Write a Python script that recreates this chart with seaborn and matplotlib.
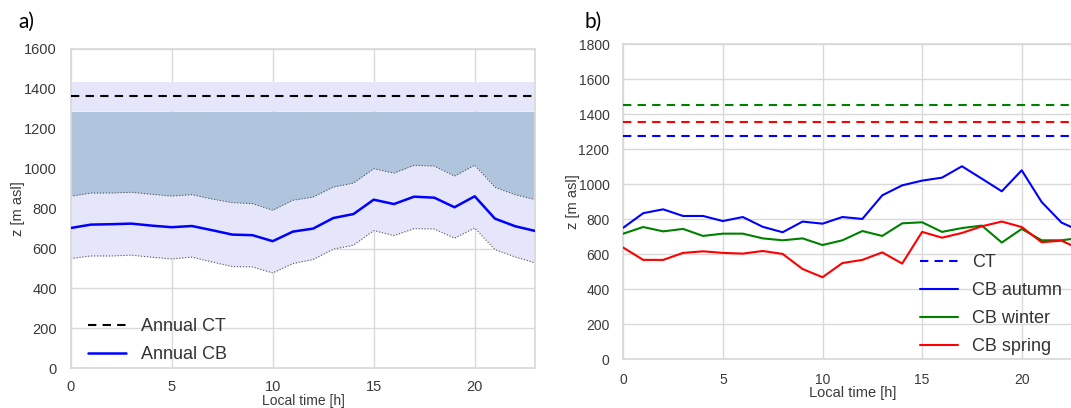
import numpy as np
import pandas as pd
import matplotlib
matplotlib.use("Agg")
import matplotlib.pyplot as plt
import seaborn as sns

# ---------------- data ----------------
hours = list(range(24))

# panel a) annual means
annual_ct = 1362
annual_ct_upper = 1436
annual_ct_lower = 1288
annual_cb = [703, 720, 722, 725, 715, 707, 713, 692, 670, 667, 637, 685,
             700, 753, 773, 845, 823, 860, 855, 807, 862, 750, 712, 688]
annual_cb_upper = [862, 878, 878, 882, 872, 863, 870, 848, 830, 825, 792, 842,
                   858, 908, 928, 1000, 978, 1017, 1013, 963, 1018, 907, 870, 845]
annual_cb_lower = [550, 563, 563, 567, 557, 548, 557, 533, 510, 508, 478, 525,
                   545, 597, 617, 690, 665, 700, 698, 652, 703, 595, 558, 528]

# panel b) seasonal
ct_autumn = 1276
ct_spring = 1356
ct_winter = 1453
cb_autumn = [752, 835, 857, 819, 819, 790, 813, 757, 726, 787, 775, 813,
             802, 937, 994, 1021, 1038, 1103, 1032, 960, 1080, 899, 781, 730]
cb_winter = [718, 756, 731, 745, 705, 718, 718, 691, 680, 691, 653, 680,
             733, 705, 777, 783, 728, 750, 764, 667, 745, 680, 680, 695]
cb_spring = [638, 568, 568, 608, 617, 608, 604, 619, 602, 516, 469, 550,
             568, 611, 547, 728, 695, 722, 760, 787, 756, 669, 678, 625]

df_a = pd.DataFrame({"hour": hours, "cb": annual_cb,
                     "up": annual_cb_upper, "lo": annual_cb_lower})
df_b = pd.DataFrame({"hour": hours, "autumn": cb_autumn,
                     "winter": cb_winter, "spring": cb_spring})

# ---------------- style ----------------
sns.set_theme(style="whitegrid")
plt.rcParams["font.family"] = ["Liberation Sans", "DejaVu Sans"]
plt.rcParams["axes.edgecolor"] = "#d9d9d9"
plt.rcParams["grid.color"] = "#d9d9d9"

fig = plt.figure(figsize=(10.71, 4.08), dpi=100)

W, H = 1071.0, 408.0
ax_a = fig.add_axes([70.7 / W, 1 - 368.3 / H, (535.3 - 70.7) / W, (368.3 - 49.0) / H])
ax_b = fig.add_axes([623.3 / W, 1 - 359.3 / H, (23 * 19.92) / W, (359.3 - 44.3) / H])

tick_col = "#3a3a3a"

# ---------- panel a ----------
ax = ax_a
ax.fill_between(df_a["hour"], annual_ct_lower, annual_ct_upper,
                color="#e6e6fa", lw=0, zorder=1)
ax.fill_between(df_a["hour"], df_a["up"], annual_ct_lower,
                color="#b0c4de", lw=0, zorder=1)
ax.fill_between(df_a["hour"], df_a["lo"], df_a["up"],
                color="#e6e6fa", lw=0, zorder=1)
ax.plot(df_a["hour"], df_a["up"], color="#555555", lw=0.8, ls=":", zorder=2)
ax.plot(df_a["hour"], df_a["lo"], color="#555555", lw=0.8, ls=":", zorder=2)
ax.axhline(annual_ct, color="black", lw=1.5, ls=(0, (4, 3)), zorder=3,
           label="Annual CT")
sns.lineplot(data=df_a, x="hour", y="cb", ax=ax, color="#0000ff", lw=1.8,
             label="Annual CB", zorder=4)
ax.set_xlim(0, 23)
ax.set_ylim(0, 1600)
ax.set_xticks([0, 5, 10, 15, 20])
ax.set_yticks(range(0, 1601, 200))
ax.tick_params(axis="y", labelsize=10.5, colors=tick_col, pad=4)
ax.tick_params(axis="x", labelsize=10.5, colors=tick_col, pad=2.5)
ax.set_xlabel("Local time [h]", fontsize=10, color=tick_col, labelpad=0)
ax.set_ylabel("z [m asl]", fontsize=10.5, color=tick_col, labelpad=-1)
ax.legend(loc="upper left", bbox_to_anchor=(0.037, 0.158), frameon=False,
          fontsize=13, borderpad=0, borderaxespad=0, handlelength=2.1,
          handletextpad=0.85, labelspacing=0.62, labelcolor="#333333")

# ---------- panel b ----------
ax = ax_b
ax.axhline(ct_winter, color="#008000", lw=1.5, ls=(0, (4, 3)), zorder=3)
ax.axhline(ct_spring, color="#ff0000", lw=1.5, ls=(0, (4, 3)), zorder=3)
ax.axhline(ct_autumn, color="#0000ff", lw=1.5, ls=(0, (4, 3)), zorder=3,
           label="CT")
sns.lineplot(data=df_b, x="hour", y="autumn", ax=ax, color="#0000ff", lw=1.5,
             label="CB autumn", zorder=4)
sns.lineplot(data=df_b, x="hour", y="winter", ax=ax, color="#008000", lw=1.5,
             label="CB winter", zorder=4)
sns.lineplot(data=df_b, x="hour", y="spring", ax=ax, color="#ff0000", lw=1.5,
             label="CB spring", zorder=4)
ax.set_xlim(0, 23)
ax.set_ylim(0, 1800)
ax.set_xticks([0, 5, 10, 15, 20])
ax.set_yticks(range(0, 1801, 200))
ax.tick_params(axis="both", labelsize=10, colors=tick_col, pad=4)
ax.set_xlabel("Local time [h]", fontsize=10.5, color=tick_col, labelpad=-1)
ax.set_ylabel("z [m asl]", fontsize=10.5, color=tick_col, labelpad=-1)
ax.legend(loc="upper left", bbox_to_anchor=(0.6476, 0.333), frameon=False,
          fontsize=13, borderpad=0, borderaxespad=0, handlelength=2.1,
          handletextpad=0.8, labelspacing=0.6, labelcolor="#333333")

# panel letters
fig.text(18 / W, 1 - 22 / H, "a)", fontsize=15, color="black",
         va="center", ha="left", family=["Lato", "DejaVu Sans"])
fig.text(585 / W, 1 - 22 / H, "b)", fontsize=15, color="black",
         va="center", ha="left", family=["Lato", "DejaVu Sans"])

fig.savefig("out.png", dpi=100)
